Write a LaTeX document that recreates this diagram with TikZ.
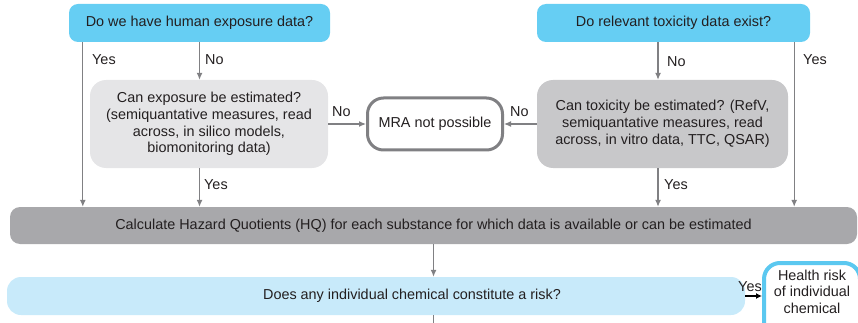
\documentclass[tikz,border=0pt]{standalone}
\usepackage{fontspec}
\setmainfont{Liberation Sans}
\usepackage{xcolor}
\usetikzlibrary{positioning,arrows.meta}

\definecolor{askblue}{HTML}{66CEF3}
\definecolor{paleblue}{HTML}{C8EAFA}
\definecolor{lightgrey}{HTML}{E5E5E7}
\definecolor{midgrey}{HTML}{C8C8CA}
\definecolor{darkgrey}{HTML}{A8A8AB}
\definecolor{linegrey}{HTML}{808083}
\definecolor{inkdark}{HTML}{231F20}
\definecolor{riskblue}{HTML}{5BC8F0}

\begin{document}
\begin{tikzpicture}[
    x=1pt, y=-1pt,
    font=\fontsize{14.4}{16.8}\selectfont,
    text=inkdark,
    >=Latex,
    box/.style={
        rounded corners=9pt,
        align=center,
        inner sep=2pt
    },
    ask/.style={box, fill=askblue, minimum height=38pt},
    estbox/.style={box, rounded corners=16pt, minimum height=88pt},
    endbox/.style={box, fill=white, rounded corners=16pt, line width=3pt},
    arrow/.style={->, draw=linegrey, line width=1.2pt,
        -{Latex[length=7pt,width=6pt]}},
    lbl/.style={anchor=west, inner sep=0pt}
]
\clip (0,0) rectangle (858,323);

\node[ask, minimum width=261pt] (askexp) at (199.5,23) {Do we have human exposure data?};
\node[ask, minimum width=273pt] (asktox) at (673.5,23) {Do relevant toxicity data exist?};

\node[estbox, fill=lightgrey, minimum width=238pt] (estexp) at (209,124)
    {Can exposure be estimated?\\(semiquantative measures, read\\across, in silico models,\\biomonitoring data)};
\node[estbox, fill=midgrey, minimum width=251pt] (esttox) at (662.5,124)
    {Can toxicity be estimated? (RefV,\\semiquantative measures, read\\across, in vitro data, TTC, QSAR)};
\node[endbox, draw=linegrey, minimum width=135pt, minimum height=52pt] (mra) at (435,124) {MRA not possible};

\node[box, fill=darkgrey, rounded corners=10pt, minimum width=847pt, minimum height=37pt] (hq) at (433.5,225.5)
    {Calculate Hazard Quotients (HQ) for each substance for which data is available or can be estimated};
\node[box, fill=paleblue, rounded corners=14pt, minimum width=738pt, minimum height=38pt] (risk) at (376,296)
    {\hspace*{72pt}Does any individual chemical constitute a risk?};
\node[endbox, draw=riskblue, line width=4pt, minimum width=96pt, minimum height=78pt] (health) at (812,302)
    {Health risk\\of individual\\chemical\\[4pt]};
\coordinate (next) at (433.5,335);

% exposure side
\draw[arrow] ([xshift=14pt]askexp.south west) -- ([xshift=14pt]askexp.south west |- hq.north);
\draw[arrow] (askexp.south) -- (askexp.south |- estexp.north);
\draw[arrow] (askexp.south |- estexp.south) -- (askexp.south |- hq.north);
\draw[arrow] (estexp.east) -- (mra.west);
\node[lbl] (yesexp) at (92,60) {Yes};
\node[lbl] (noexp) at (205,60) {No};
\node[lbl] (noexpmra) at (332,112) {No};
\node[lbl] (yesestexp) at (204,185) {Yes};

% toxicity side
\draw[arrow] ([xshift=-15.5pt]asktox.south) -- ([xshift=-15.5pt]asktox.south |- esttox.north);
\draw[arrow] ([xshift=-16pt]asktox.south east) -- ([xshift=-16pt]asktox.south east |- hq.north);
\draw[arrow] ([xshift=-15.5pt]asktox.south |- esttox.south) -- ([xshift=-15.5pt]asktox.south |- hq.north);
\draw[arrow] (esttox.west) -- (mra.east);
\node[lbl] (notox) at (667,62) {No};
\node[lbl] (yestox) at (803,60) {Yes};
\node[lbl] (notoxmra) at (510,112) {No};
\node[lbl] (yesesttox) at (664,185) {Yes};

% risk
\draw[arrow] (hq.south) -- (hq.south |- risk.north);
\draw[draw=linegrey, line width=1.2pt] (hq.south |- risk.south) -- (next);
\draw[->, line width=1.2pt, -{Latex[length=6pt,width=6pt]}] (risk.east) -- (risk.east -| health.west);
\node[lbl] (yesrisk) at (738,287) {Yes};
\end{tikzpicture}
\end{document}
